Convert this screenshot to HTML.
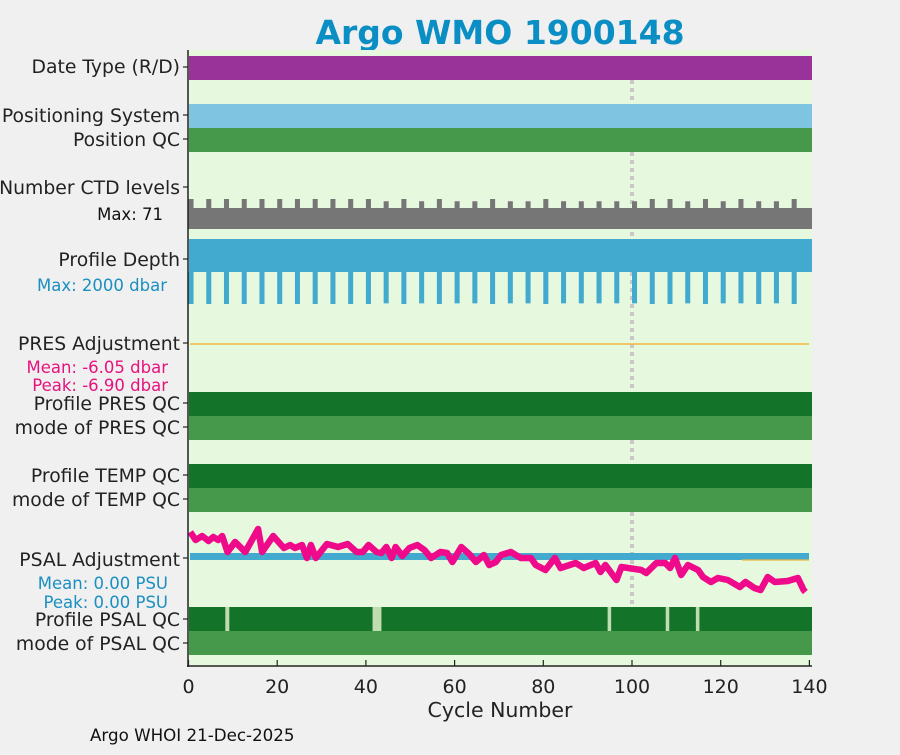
<!DOCTYPE html>
<html><head><meta charset="utf-8"><style>
body{margin:0;background:#f0f0f0;font-family:"Liberation Sans","DejaVu Sans",sans-serif}
svg text{font-family:"DejaVu Sans","Liberation Sans",sans-serif}
</style></head><body>
<svg id="c" width="900" height="750" viewBox="0 0 900 750">
<rect x="0" y="0" width="900" height="750" fill="#f0f0f0"/>
<text x="500" y="44" text-anchor="middle" font-size="33" font-weight="bold" fill="#0a8ec4">Argo WMO 1900148</text>
<rect x="188" y="50" width="624" height="616" fill="#e6f9df"/>
<g id="marks"></g>
<g font-size="18.8" fill="#222" text-anchor="end">
<text x="180" y="73">Date Type (R/D)</text>
<text x="180" y="122">Positioning System</text>
<text x="180" y="146">Position QC</text>
<text x="180" y="194">Number CTD levels</text>
<text x="180" y="266">Profile Depth</text>
<text x="180" y="350">PRES Adjustment</text>
<text x="180" y="410">Profile PRES QC</text>
<text x="180" y="434">mode of PRES QC</text>
<text x="180" y="482">Profile TEMP QC</text>
<text x="180" y="506">mode of TEMP QC</text>
<text x="180" y="566">PSAL Adjustment</text>
<text x="180" y="626">Profile PSAL QC</text>
<text x="180" y="650">mode of PSAL QC</text>
</g>
<text x="163" y="220" font-size="16.5" fill="#111" text-anchor="end">Max: 71</text>
<text x="167" y="291" font-size="16.5" fill="#1a8fc0" text-anchor="end">Max: 2000 dbar</text>
<text x="168" y="373" font-size="16.5" fill="#e6127e" text-anchor="end">Mean: -6.05 dbar</text>
<text x="168" y="391" font-size="16.5" fill="#e6127e" text-anchor="end">Peak: -6.90 dbar</text>
<text x="168" y="589" font-size="16.5" fill="#1a8fc0" text-anchor="end">Mean: 0.00 PSU</text>
<text x="168" y="608" font-size="16.5" fill="#1a8fc0" text-anchor="end">Peak: 0.00 PSU</text>
<line x1="188" y1="50" x2="188" y2="667" stroke="#222" stroke-width="1.5"/>
<line x1="187" y1="666" x2="812" y2="666" stroke="#222" stroke-width="1.5"/>
<g id="xaxis"></g>
<text x="500" y="717" font-size="20.5" fill="#222" text-anchor="middle">Cycle Number</text>
<text x="90" y="741" font-size="16.7" fill="#111">Argo WHOI 21-Dec-2025</text>
</svg>
<script>
const xTicks = [0, 20, 40, 60, 80, 100, 120, 140];
const barCycles = [1,5,9,13,17,21,25,29,33,37,41,45,49,53,57,61,65,69,73,77,81,85,89,93,97,101,105,109,113,117,121,125,129,133,137];
const ctdLevels = [71,71,71,71,71,71,71,71,71,71,71,70,71,70,71,70,70,71,70,70,71,70,70,70,70,70,71,71,70,71,70,71,70,70,71];
const depthVals = [2000,2000,2000,2000,2000,2000,2000,2000,2000,2000,2000,1980,2000,1980,2000,1980,1980,2000,1980,1980,2000,1980,1980,1980,1980,1980,2000,2000,1980,2000,1980,1980,2000,1980,2000];
const psalCycles = [0.4,1.6,3.1,4.5,5.6,6.7,7.6,8.8,10.5,12.8,15.7,16.6,19.1,21.5,22.9,24.0,25.6,26.7,27.6,28.7,31.2,33.7,35.9,37.9,39.3,40.6,42.4,43.5,44.6,45.8,46.7,48.2,49.8,51.6,53.2,54.7,56.8,58.3,59.5,61.5,63.3,64.8,66.6,67.8,69.3,70.5,72.7,74.9,77.2,78.3,80.5,82.6,83.9,87.3,89.1,91.8,92.9,94.0,96.5,97.6,102.1,103.2,105.5,107.5,108.6,109.7,111.1,112.6,114.9,116.0,117.8,119.4,121.6,124.3,125.6,127.6,129.0,130.6,132.2,135.1,137.4,138.7,139.1];
const psalVals = [26,18,22,17,21,18,22,6,16,6,29,6,22,10,13,10,13,0,13,0,14,11,14,6,6,13,6,5,11,0,11,2,10,13,8,0,6,5,-4,11,4,-4,3,-7,-4,3,6,0,0,-7,-12,0,-10,-5,-10,-5,-14,-7,-22,-9,-12,-15,-5,-5,-10,0,-17,-7,-12,-19,-24,-20,-22,-29,-24,-30,-32,-19,-24,-23,-20,-32,-34];
const psalQcGaps = [[8.3,9.2],[41.5,43.5],[94.5,95.3],[107.6,108.4],[114.4,115.2]];
const labelYs = [67,115,139,187,259,343,403,427,475,499,558,619,643];

const NS='http://www.w3.org/2000/svg';
const X0=188.5, SX=4.435;
function xs(c){return X0+c*SX;}
function ctdY(v){return 208 - (v-67)*2.25;}
function depthY(v){return 239 + v*0.0325;}
function psalY(v){return 558 - v;}
const g=document.getElementById('marks');
function rect(x,y,w,h,fill,name){const r=document.createElementNS(NS,'rect');r.setAttribute('x',x);r.setAttribute('y',y);r.setAttribute('width',w);r.setAttribute('height',h);r.setAttribute('fill',fill);


g.appendChild(r);return r;}
// dotted line at cycle 100 (behind bands)
const dl=document.createElementNS(NS,'line');dl.setAttribute('x1',xs(100));dl.setAttribute('x2',xs(100));dl.setAttribute('y1',80);dl.setAttribute('y2',606);dl.setAttribute('stroke','#c8c8c8');dl.setAttribute('stroke-width',4);dl.setAttribute('stroke-dasharray','4 4');


g.appendChild(dl);
// full-width bands
rect(189,56,623,24,'#993399','date-type-band');
rect(189,104,623,24,'#7fc4e0','positioning-system-band');
rect(189,128,623,24,'#46994a','position-qc-band');
rect(189,208,623,21,'#767676','ctd-levels-band');
rect(189,239,623,33,'#42a9cf','profile-depth-band');
rect(189,392,623,24,'#137329','profile-pres-qc-band');
rect(189,416,623,24,'#46994a','mode-pres-qc-band');
rect(189,464,623,24,'#137329','profile-temp-qc-band');
rect(189,488,623,24,'#46994a','mode-temp-qc-band');
rect(189,607,623,24,'#137329','profile-psal-qc-band');
rect(189,631,623,24,'#46994a','mode-psal-qc-band');
psalQcGaps.forEach(gp=>{rect(xs(gp[0]),607,(gp[1]-gp[0])*SX,24,'#c0dcb0','psal-qc-gap');});
barCycles.forEach((c,i)=>{
  const y=ctdY(ctdLevels[i]);
  rect(xs(c-1),y,SX+0.6,229-y,'#767676','ctd-spike');
  const yb=depthY(depthVals[i]);
  rect(xs(c-1),272,SX+0.6,yb-272,'#42a9cf','depth-spike');
});
// PRES adjustment line
const pl=document.createElementNS(NS,'line');pl.setAttribute('x1',190);pl.setAttribute('x2',809);pl.setAttribute('y1',344);pl.setAttribute('y2',344);pl.setAttribute('stroke','#f0b840');pl.setAttribute('stroke-width',1.5);


g.appendChild(pl);
// PSAL adj bar
rect(190,553,619,7,'#42a9cf','psal-adjustment-bar');
const ol=document.createElementNS(NS,'line');ol.setAttribute('x1',742);ol.setAttribute('x2',809);ol.setAttribute('y1',560);ol.setAttribute('y2',560);ol.setAttribute('stroke','#f0b840');ol.setAttribute('stroke-width',1.2);


g.appendChild(ol);
// PSAL pink line
const pts=psalCycles.map((c,i)=>xs(c).toFixed(1)+','+psalY(psalVals[i]).toFixed(1)).join(' ');
const pp=document.createElementNS(NS,'polyline');pp.setAttribute('points',pts);pp.setAttribute('fill','none');pp.setAttribute('stroke','#ee0a8a');pp.setAttribute('stroke-width',6.5);pp.setAttribute('stroke-linejoin','round');


g.appendChild(pp);
// y ticks
labelYs.forEach(y=>{const t=document.createElementNS(NS,'line');t.setAttribute('x1',183);t.setAttribute('x2',188);t.setAttribute('y1',y);t.setAttribute('y2',y);t.setAttribute('stroke','#222');t.setAttribute('stroke-width',1.2);


g.appendChild(t);});
// x axis
const xa=document.getElementById('xaxis');
xTicks.forEach(v=>{
  const t=document.createElementNS(NS,'line');t.setAttribute('x1',xs(v));t.setAttribute('x2',xs(v));t.setAttribute('y1',660);t.setAttribute('y2',666);t.setAttribute('stroke','#222');t.setAttribute('stroke-width',1.2);
  
  
  xa.appendChild(t);
  const l=document.createElementNS(NS,'text');l.setAttribute('x',xs(v));l.setAttribute('y',693);l.setAttribute('text-anchor','middle');l.setAttribute('font-size','19');l.setAttribute('fill','#222');l.textContent=v;
  
  
  xa.appendChild(l);
});
</script>
</body></html>
